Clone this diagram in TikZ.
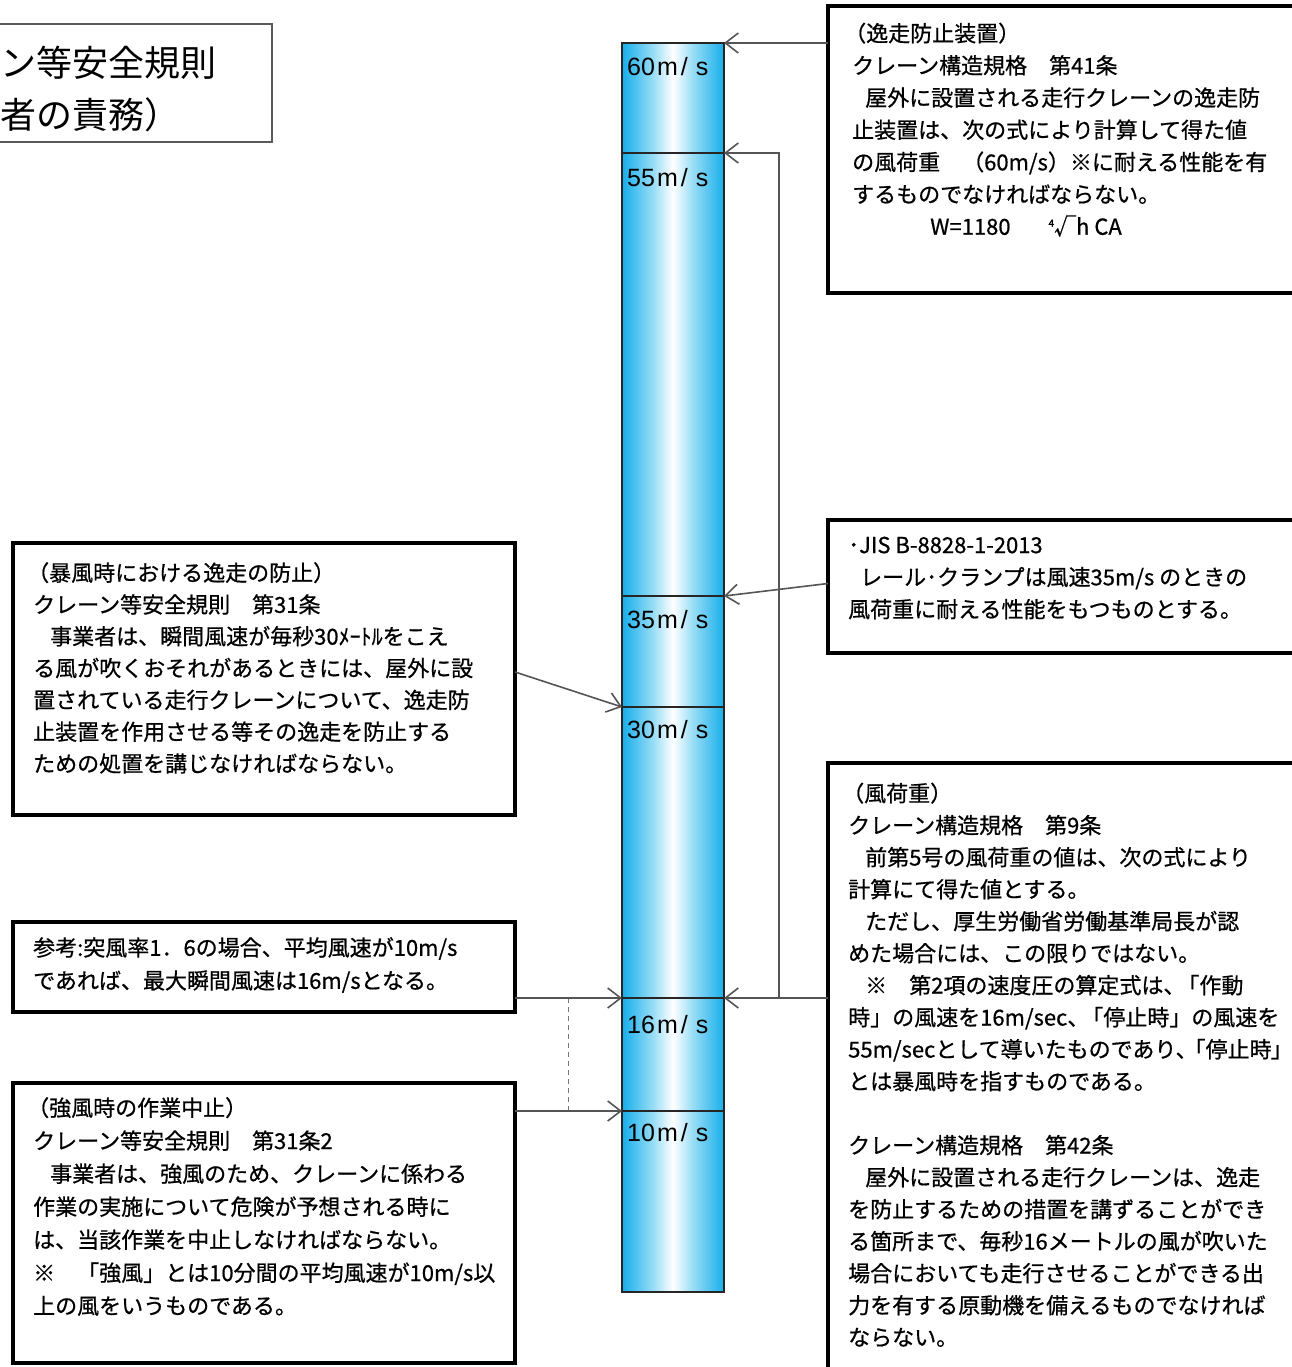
\documentclass[tikz,border=0pt]{standalone}
\usepackage{fontspec}
\newfontfamily\jpfont{Noto Sans CJK JP}
\newfontfamily\jpbfont[FakeBold=0.7]{Noto Sans CJK JP}
\newfontfamily\arialfont{Liberation Sans}
\usetikzlibrary{arrows.meta,calc}
\definecolor{colcyan}{RGB}{22,174,234}
\definecolor{colmid}{RGB}{150,220,246}
\definecolor{conngray}{RGB}{85,85,85}
\pgfdeclarehorizontalshading{colshade}{100bp}{color(0bp)=(colcyan); color(25bp)=(colcyan); color(40bp)=(colmid); color(50bp)=(white); color(60bp)=(colmid); color(75bp)=(colcyan); color(100bp)=(colcyan)}
\begin{document}
\begin{tikzpicture}[x=1pt,y=-1pt,
  box/.style={draw=black, line width=3.6pt, fill=white, rectangle, inner sep=0pt, outer sep=0pt, anchor=north west},
  tbox/.style={draw=black!65, line width=1.2pt, fill=white, rectangle, inner sep=0pt, outer sep=0pt, anchor=north west},
  txt/.style={anchor=north west, inner sep=0pt, align=left, execute at begin node=\strut, font=\jpbfont\fontsize{22}{32.2}\selectfont},
  seg/.style={draw=black!85, line width=1.5pt, shade, shading=colshade, minimum width=102pt, inner sep=0pt, outer sep=0pt, anchor=north west},
  speed/.style={anchor=west, inner sep=0pt, font=\arialfont\fontsize{25}{25}\selectfont},
  conn/.style={draw=conngray, line width=1.6pt, -{Straight Barb[length=13pt,width=20pt]}},
  dconn/.style={draw=conngray!80, line width=1.6pt, dash pattern=on 5pt off 4pt},
]
\clip (0,0) rectangle (1292,1367);
\fill[white] (0,0) rectangle (1292,1367);

% title box (cut at left edge)
\node[tbox, minimum width=282pt, minimum height=118pt] (title) at (-10,24) {};
\node[anchor=north west, inner sep=0pt, align=left, execute at begin node=\strut,
      font=\jpfont\fontsize{36}{52}\selectfont] (titletxt) at (0,46) {ン等安全規則\\者の責務）};

% column
\node[seg, minimum height=110pt] (s60) at (622,43) {};
\node[seg, minimum height=443pt] (s55) at (622,153) {};
\node[seg, minimum height=111pt] (s35) at (622,596) {};
\node[seg, minimum height=291pt] (s30) at (622,707) {};
\node[seg, minimum height=113pt] (s16) at (622,998) {};
\node[seg, minimum height=181pt] (s10) at (622,1111) {};
\node[speed] (l60) at (627,67) {60\kern2pt m\kern3pt/\kern8pt s};
\node[speed] (l55) at (627,178) {55\kern2pt m\kern3pt/\kern8pt s};
\node[speed] (l35) at (627,620) {35\kern2pt m\kern3pt/\kern8pt s};
\node[speed] (l30) at (627,730) {30\kern2pt m\kern3pt/\kern8pt s};
\node[speed] (l16) at (627,1025) {16\kern2pt m\kern3pt/\kern8pt s};
\node[speed] (l10) at (627,1133) {10\kern2pt m\kern3pt/\kern8pt s};

% right boxes
\node[box, minimum width=480pt, minimum height=287pt] (trbox) at (828,6) {};
\node[txt] (trtxt) at (852,22.5) {\kern-8pt（逸走防止装置）\\
クレーン構造規格　第41条\\
\kern13pt 屋外に設置される走行クレーンの逸走防\\
止装置は、次の式により計算して得た値\\
の風荷重　（60m/s）※に耐える性能を有\\
するものでなければならない。\\
\kern78pt W=1180\kern38pt\raisebox{8pt}{\fontsize{10}{10}\selectfont 4}√h CA};

\node[box, minimum width=480pt, minimum height=133pt] (mrbox) at (828,520) {};
\node[txt] (mrtxt) at (848,536.5) {･JIS B-8828-1-2013\\
\kern12pt レール･クランプは風速35m/s のときの\\
風荷重に耐える性能をもつものとする。};

\node[box, minimum width=480pt, minimum height=620pt] (brbox) at (828,763) {};
\node[txt, font=\jpbfont\fontsize{22}{32}\selectfont] (brtxt) at (848,782.5) {\kern-6pt（風荷重）\\
クレーン構造規格　第9条\\
\kern17pt 前第5号の風荷重の値は、次の式により\\
計算にて得た値とする。\\
\kern17pt ただし、厚生労働省労働基準局長が認\\
めた場合には、この限りではない。\\
\kern17pt ※　第2項の速度圧の算定式は、\kern-8pt「作動\\
時」の風速を16m/sec、\kern-8pt「停止時」の風速を\\
55m/secとして導いたものであり、\kern-14pt「停止時\kern-1pt」\kern-10pt\\
とは暴風時を指すものである。\\
\mbox{}\\
クレーン構造規格　第42条\\
\kern17pt 屋外に設置される走行クレーンは、逸走\\
を防止するための措置を講ずることができ\\
る箇所まで、毎秒16メートルの風が吹いた\\
場合においても走行させることができる出\\
力を有する原動機を備えるものでなければ\\
ならない。};

% left boxes
\node[box, minimum width=502pt, minimum height=272pt] (boxA) at (13,543) {};
\node[txt, font=\jpbfont\fontsize{22}{31.8}\selectfont] (txtA) at (33,562) {\kern-6pt（暴風時における逸走の防止）\\
クレーン等安全規則　第31条\\
\kern17pt 事業者は、瞬間風速が毎秒30ﾒｰﾄﾙをこえ\\
る風が吹くおそれがあるときには、屋外に設\\
置されている走行クレーンについて、逸走防\\
止装置を作用させる等その逸走を防止する\\
ための処置を講じなければならない。};

\node[box, minimum width=502pt, minimum height=90pt] (boxB) at (13,922) {};
\node[txt, font=\jpbfont\fontsize{22}{33}\selectfont] (txtB) at (33,937) {参考:突風率1．6の場合、平均風速が10m/s\\
であれば、最大瞬間風速は16m/sとなる。};

\node[box, minimum width=502pt, minimum height=280pt] (boxC) at (13,1083) {};
\node[txt, font=\jpbfont\fontsize{22}{33}\selectfont] (txtC) at (33,1097) {\kern-6pt（強風時の作業中止）\\
クレーン等安全規則　第31条2\\
\kern17pt 事業者は、強風のため、クレーンに係わる\\
作業の実施について危険が予想される時に\\
は、当該作業を中止しなければならない。\\
※　「強風」とは10分間の平均風速が10m/s以\\
上の風をいうものである。};

% connectors
\coordinate (jn) at (779,998);
\coordinate (dtop) at ($(boxB.east |- s16.north west)!0.5!(s16.north west)$);
\coordinate (dbot) at (dtop |- s10.north west);
\draw[dconn] (dtop) -- (dbot);
\draw[conn] (trbox.west |- s60.north east) -- (s60.north east);
\draw[conn] (brbox.west |- s16.north east) -- (s16.north east);
\draw[conn] (jn) |- (s55.north east);
\draw[conn] ($(mrbox.west)+(0,-3)$) -- (s35.north east);
\draw[conn] ($(boxA.east)+(0,-7)$) -- (s30.north west);
\draw[conn] (boxB.east |- s16.north west) -- (s16.north west);
\draw[conn] (boxC.east |- s10.north west) -- (s10.north west);
\end{tikzpicture}
\end{document}
